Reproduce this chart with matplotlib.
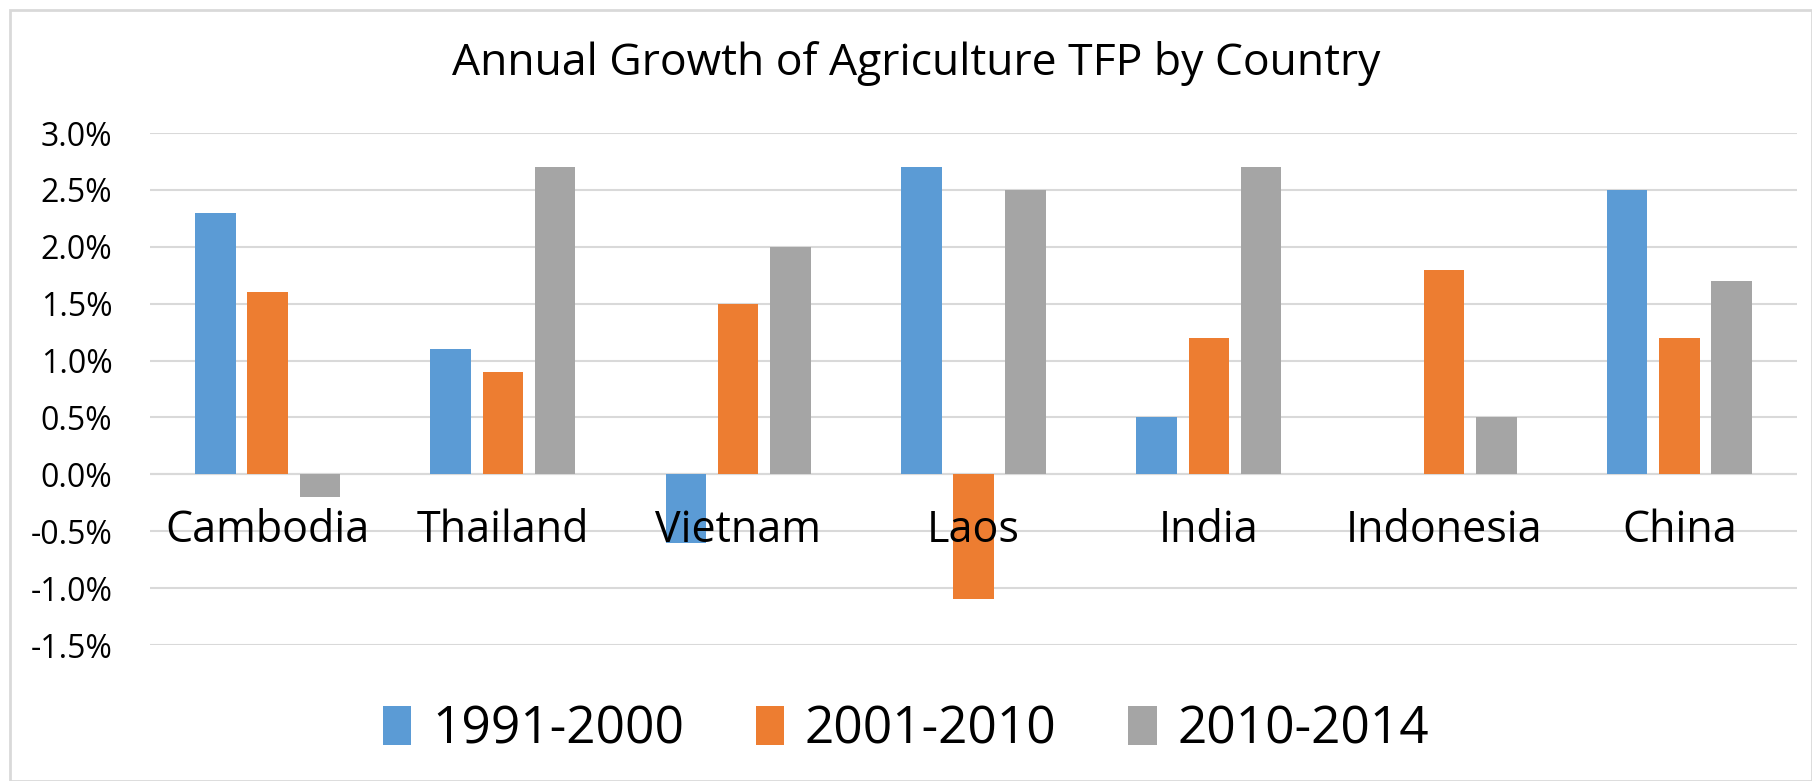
import matplotlib
matplotlib.use("Agg")
import matplotlib.pyplot as plt
import numpy as np
from matplotlib.patches import Rectangle

countries = ["Cambodia", "Thailand", "Vietnam", "Laos", "India", "Indonesia", "China"]
series_names = ["1991-2000", "2001-2010", "2010-2014"]
s1991 = [2.3, 1.1, -0.6, 2.7, 0.5, np.nan, 2.5]
s2001 = [1.6, 0.9, 1.5, -1.1, 1.2, 1.8, 1.2]
s2010 = [-0.2, 2.7, 2.0, 2.5, 2.7, 0.5, 1.7]
colors = ["#5B9BD5", "#ED7D31", "#A5A5A5"]
yticks = [-1.5, -1.0, -0.5, 0.0, 0.5, 1.0, 1.5, 2.0, 2.5, 3.0]

plt.rcParams['font.family'] = ['Open Sans', 'DejaVu Sans']

fig = plt.figure(figsize=(18.12, 7.81), dpi=100)
ax = fig.add_axes([150/1812, 1-645/781, (1797-150)/1812, (645-133)/781])

x = np.arange(len(countries))
w = 0.172
step = 0.222
for i, (vals, c, name) in enumerate(zip([s1991, s2001, s2010], colors, series_names)):
    ax.bar(x + (i-1)*step, vals, width=w, color=c, label=name, zorder=3)

ax.set_xlim(-0.5, len(countries)-0.5)
ax.set_ylim(-1.5, 3.0)
ax.set_yticks(yticks)
ax.set_yticklabels([f"{v:.1f}%" for v in yticks], fontsize=23)
ax.grid(axis='y', color='#D9D9D9', linewidth=1.5, zorder=0)
ax.axhline(0, color='#D9D9D9', linewidth=1.5, zorder=2)
for s in ax.spines.values():
    s.set_visible(False)
ax.tick_params(axis='y', length=0, pad=27)
ax.tick_params(axis='x', length=0)
ax.set_xticks([])
for xi, name in zip(x, countries):
    ax.text(xi, -0.5, name, ha='center', va='center', fontsize=31, zorder=4)

fig.text(916/1812, 1-64/781, "Annual Growth of Agriculture TFP by Country", ha='center', va='center', fontsize=32)

leg = fig.legend(loc='center', bbox_to_anchor=(0.5, 1-730/781), ncol=3, frameon=False,
                 fontsize=37, handlelength=0.55, handleheight=0.8, columnspacing=1.4, handletextpad=0.4)

fig.patches.append(Rectangle((10/1812, 0), 1-10/1812, 1-10/781, transform=fig.transFigure,
                             fill=False, edgecolor='#D9D9D9', linewidth=2))

fig.savefig("out.png", dpi=100)
